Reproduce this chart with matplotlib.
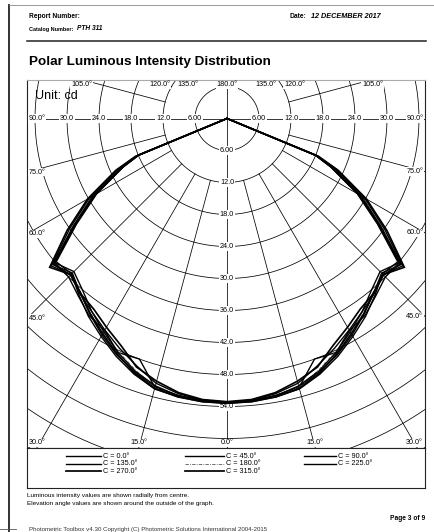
import numpy as np
import matplotlib
matplotlib.use("Agg")
import matplotlib.pyplot as plt
from matplotlib.lines import Line2D

plt.rcParams['font.family'] = ['Liberation Sans', 'DejaVu Sans']

# ---------------- data ----------------
gamma = [0, 5, 10, 15, 20, 25, 30, 35, 40, 45, 50, 55, 60, 65, 67.5, 70, 75, 80, 85, 90]
c0 = [53.3, 53.2, 52.8, 52.1, 50.6, 48.9, 46.9, 44.8, 42.8, 41.0, 42.6, 35.2, 29.2, 22.4, 18.2, 0, 0, 0, 0, 0]
c45 = [53.2, 53.0, 52.4, 51.4, 49.4, 47.6, 45.8, 44.2, 42.9, 41.4, 43.0, 36.0, 29.8, 22.8, 18.4, 0, 0, 0, 0, 0]
c90 = [53.3, 53.1, 52.7, 52.2, 48.0, 48.4, 45.9, 45.1, 43.4, 42.0, 42.2, 34.6, 28.4, 21.6, 18.0, 0, 0, 0, 0, 0]
c135 = [53.4, 53.3, 53.0, 52.5, 51.0, 49.2, 47.2, 45.3, 43.2, 41.2, 41.8, 34.4, 28.2, 21.4, 17.9, 0, 0, 0, 0, 0]
c180 = [53.3, 53.2, 52.9, 52.2, 50.2, 48.2, 46.4, 44.6, 42.6, 41.4, 42.4, 35.4, 29.0, 22.0, 18.1, 0, 0, 0, 0, 0]
c225 = [53.3, 53.1, 52.8, 51.9, 50.4, 48.4, 46.2, 44.2, 42.1, 40.6, 42.1, 35.0, 28.8, 21.9, 18.0, 0, 0, 0, 0, 0]
c270 = [53.1, 52.9, 52.2, 51.0, 49.6, 47.0, 45.2, 43.6, 42.8, 41.4, 43.4, 36.6, 30.2, 23.0, 18.6, 0, 0, 0, 0, 0]
c315 = [53.4, 53.3, 53.0, 52.4, 50.8, 48.7, 46.6, 44.7, 42.7, 41.5, 42.5, 35.0, 28.6, 21.6, 18.0, 0, 0, 0, 0, 0]

series_labels = ["C = 0.0°", "C = 45.0°", "C = 90.0°", "C = 135.0°",
                 "C = 180.0°", "C = 225.0°", "C = 270.0°", "C = 315.0°"]
series_values = [c0, c45, c90, c135, c180, c225, c270, c315]

ring_values = [6, 12, 18, 24, 30, 36, 42, 48, 54, 60, 66, 72, 78]
ring_labels_v = ["6.00", "12.0", "18.0", "24.0", "30.0", "36.0", "42.0", "48.0", "54.0"]
ring_labels_h = ["6.00", "12.0", "18.0", "24.0", "30.0"]
spoke_angles = [15, 30, 45, 60, 75, 105, 120, 135]
edge_angle_labels = [0, 15, 30, 45, 60, 75, 90, 105, 120, 135, 180]

# ---------------- figure ----------------
W, H = 435, 532
fig = plt.figure(figsize=(W / 100, H / 100), dpi=100)
fig.patch.set_facecolor("white")


def fx(px):
    return px / W


def fy(py):
    return 1 - py / H


# plot area in pixels
L, R, T, B = 27, 425, 79.5, 448
cx, cy = 227, 118.5
ppc = 5.333  # pixels per cd
xmin, xmax = -(cx - L) / ppc, (R - cx) / ppc
ymin, ymax = -(B - cy) / ppc, (cy - T) / ppc

ax = fig.add_axes([fx(L), fy(B), (R - L) / W, (B - T) / H])
ax.set_xlim(xmin, xmax)
ax.set_ylim(ymin, ymax)
ax.set_xticks([])
ax.set_yticks([])
for side, sp in ax.spines.items():
    sp.set_linewidth(0.8)
    sp.set_color("#222222")
ax.spines["top"].set_color("#aaaaaa")

gl = dict(color="black", lw=0.55, zorder=1)
t = np.linspace(0, 2 * np.pi, 721)
for r in ring_values:
    ax.plot(r * np.cos(t), r * np.sin(t), **gl)
# main axes lines
ax.plot([0, 0], [ymin, ymax], **gl)
ax.plot([xmin, xmax], [0, 0], **gl)
# spokes
for a in spoke_angles:
    ar = np.radians(a)
    for s in (-1, 1):
        ax.plot([s * 12 * np.sin(ar), s * 120 * np.sin(ar)],
                [-12 * np.cos(ar), -120 * np.cos(ar)], **gl)

lab_fs = 5.2
bb = dict(boxstyle="square,pad=0.08", fc="white", ec="none")
for lab, r in zip(ring_labels_v, ring_values):
    ax.text(0, -r, lab, ha="center", va="center", fontsize=lab_fs, bbox=bb, zorder=3)
for lab, r in zip(ring_labels_h, ring_values):
    for s in (-1, 1):
        ax.text(s * r, 0, lab, ha="center", va="center", fontsize=lab_fs, bbox=bb, zorder=3)

# angle labels at the frame edges
pad = 0.35
for a in edge_angle_labels:
    ar = np.radians(a)
    sides = (1,) if a in (0, 180) else (-1, 1)
    for s in sides:
        dx, dy = s * np.sin(ar), -np.cos(ar)
        cands = []
        if abs(dx) > 1e-9:
            cands.append(((xmax if dx > 0 else xmin) / dx, "lr"))
        if abs(dy) > 1e-9:
            cands.append(((ymax if dy > 0 else ymin) / dy, "tb"))
        tt, kind = min(cands, key=lambda c: c[0])
        px, py = tt * dx, tt * dy
        txt = f"{a:.1f}°"
        if kind == "lr":
            if dx < 0:
                ax.text(xmin + pad, py, txt, ha="left", va="center", fontsize=lab_fs, bbox=bb, zorder=4)
            else:
                ax.text(xmax - pad, py, txt, ha="right", va="center", fontsize=lab_fs, bbox=bb, zorder=4)
        else:
            if dy < 0:
                yy, va = ymin + pad, "bottom"
            else:
                yy, va = ymax - pad, "top"
            if px - 2.2 < xmin:
                ax.text(xmin + pad, yy, txt, ha="left", va=va, fontsize=lab_fs, bbox=bb, zorder=4)
            elif px + 2.2 > xmax:
                ax.text(xmax - pad, yy, txt, ha="right", va=va, fontsize=lab_fs, bbox=bb, zorder=4)
            else:
                ax.text(px, yy, txt, ha="center", va=va, fontsize=lab_fs, bbox=bb, zorder=4)

ax.text(xmin + 1.5, ymax - 1.9, "Unit: cd", ha="left", va="top", fontsize=9, zorder=5)

# curves
styles = []
for lab in series_labels:
    if lab == "C = 180.0°":
        styles.append(dict(color="#555555", lw=0.6, ls=(0, (4, 1.5, 1, 1.5))))
    elif lab in ("C = 270.0°", "C = 315.0°"):
        styles.append(dict(color="black", lw=1.25, ls="-"))
    else:
        styles.append(dict(color="black", lw=1.0, ls="-"))

g = np.radians(np.array(gamma))
for vals, st in zip(series_values, styles):
    v = np.array(vals)
    xs = np.concatenate([-(v * np.sin(g))[::-1], (v * np.sin(g))[1:]])
    ys = np.concatenate([-(v * np.cos(g))[::-1], -(v * np.cos(g))[1:]])
    ax.plot(xs, ys, zorder=6, solid_joinstyle="miter", **st)

# ---------------- legend box ----------------
LB_T, LB_B = 448, 488
lax = fig.add_axes([fx(L), fy(LB_B), (R - L) / W, (LB_B - LB_T) / H])
lax.set_xlim(L, R)
lax.set_ylim(LB_B, LB_T)
lax.set_xticks([])
lax.set_yticks([])
for sp in lax.spines.values():
    sp.set_linewidth(0.8)
    sp.set_color("#222222")
col_x = [(66, 101), (185, 224), (304, 336)]
row_y = [456.5, 464, 471.5]
for i, (lab, st) in enumerate(zip(series_labels, styles)):
    r_, c_ = divmod(i, 3)
    x0, x1 = col_x[c_]
    lax.plot([x0, x1], [row_y[r_], row_y[r_]], **st)
    lax.text(x1 + 2.5, row_y[r_], lab, ha="left", va="center", fontsize=5.2)

# ---------------- page text ----------------
fig.text(fx(29), fy(16), "Report Number:", fontsize=4.8, weight="bold", va="center")
fig.text(fx(29), fy(29), "Catalog Number:", fontsize=4.0, weight="bold", va="center")
fig.text(fx(77), fy(29), "PTH 311", fontsize=4.8, weight="bold", style="italic", va="center")
fig.text(fx(290), fy(16), "Date:", fontsize=4.8, weight="bold", va="center")
fig.text(fx(311), fy(16), "12 DECEMBER 2017", fontsize=5.2, weight="bold", style="italic", va="center")
fig.add_artist(Line2D([fx(27), fx(426)], [fy(41), fy(41)], color="#222222", lw=1.1))
fig.text(fx(29), fy(62), "Polar Luminous Intensity Distribution", fontsize=9.7,
         weight="bold", va="center")

fig.text(fx(27), fy(496), "Luminous intensity values are shown radially from centre.",
         fontsize=4.6, va="center")
fig.text(fx(27), fy(504), "Elevation angle values are shown around the outside of the graph.",
         fontsize=4.6, va="center")
fig.text(fx(425), fy(519), "Page 3 of 9", fontsize=4.8, weight="bold", va="center", ha="right")
fig.text(fx(29), fy(531.5), "Photometric Toolbox v4.30 Copyright (C) Photometric Solutions International 2004-2015",
         fontsize=4.4, va="bottom", color="#333333")

# page borders
fig.add_artist(Line2D([fx(9.5), fx(9.5)], [fy(5), fy(532)], color="#333333", lw=1.4))
fig.add_artist(Line2D([fx(9.5), fx(435)], [fy(5), fy(5)], color="#888888", lw=0.6))
fig.add_artist(Line2D([fx(0), fx(16)], [fy(529), fy(529)], color="#555555", lw=0.6))

fig.savefig("out.png", dpi=100, facecolor="white")
